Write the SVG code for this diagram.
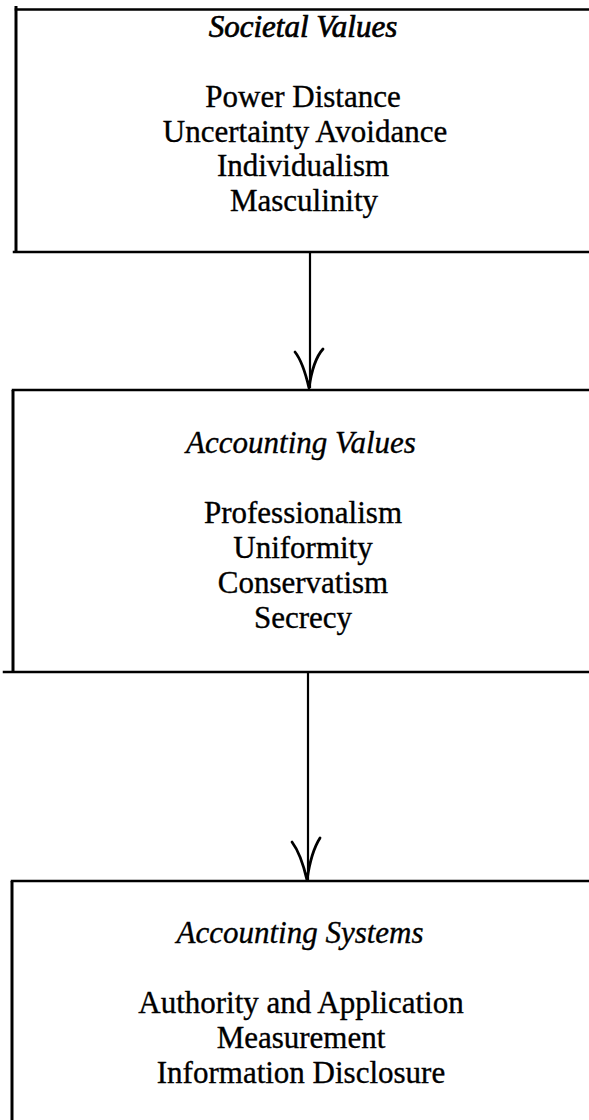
<svg xmlns="http://www.w3.org/2000/svg" width="589" height="1120" viewBox="0 0 589 1120">
<style>
.box{fill:none;stroke:#000;stroke-width:2.5;stroke-linecap:square}
.edge{fill:none;stroke:#000;stroke-width:3}
.conn{fill:none;stroke:#000;stroke-width:2.2}
.head{fill:none;stroke:#000;stroke-width:2.8;stroke-linecap:round;stroke-linejoin:round}
text{font-family:"Liberation Serif","Times New Roman",serif;font-size:31px;fill:#000;text-anchor:middle;stroke:#000;stroke-width:0.35}
.title{font-style:italic}
.strong{stroke-width:0.7}
</style>
<rect width="589" height="1120" fill="#fff"/>
<g id="societal-values">
<path class="box" d="M16,9.5 H589 M14,252 H589"/>
<path class="edge" d="M16,6 V252"/>
<text class="title strong" x="303" y="37">Societal Values</text>
<text x="303" y="107">Power Distance</text>
<text x="305" y="142">Uncertainty Avoidance</text>
<text x="303" y="176">Individualism</text>
<text x="304" y="211">Masculinity</text>
</g>
<g id="accounting-values">
<path class="box" d="M13,390 H589 M4,672 H589"/>
<path class="edge" d="M13,390 V672"/>
<text class="title" x="301" y="453">Accounting Values</text>
<text x="303" y="523">Professionalism</text>
<text x="303" y="558">Uniformity</text>
<text x="303" y="593">Conservatism</text>
<text x="303" y="628">Secrecy</text>
</g>
<g id="accounting-systems">
<path class="box" d="M12,881 H589"/>
<path class="edge" d="M12,881 V1120"/>
<text class="title" x="300" y="943">Accounting Systems</text>
<text x="301" y="1013">Authority and Application</text>
<text x="301" y="1048">Measurement</text>
<text x="301" y="1083">Information Disclosure</text>
</g>
<g id="connectors">
<path class="conn" d="M310,252 V388"/>
<path class="head" d="M295,352 Q303,362 309,388 Q313,360 323,349"/>
<path class="conn" d="M308,672 V880"/>
<path class="head" d="M292,842 Q301,854 307,880 Q311,852 320,838"/>
</g>
</svg>
